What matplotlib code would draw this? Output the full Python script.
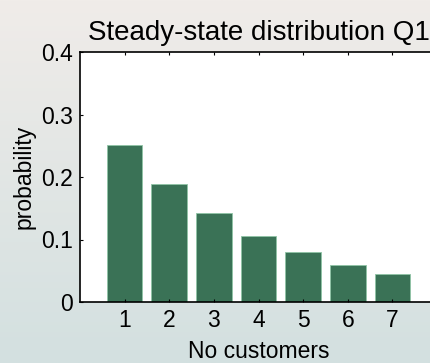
#!/usr/bin/env python3
import numpy as np
import matplotlib
matplotlib.use('Agg')
import matplotlib.pyplot as plt
from matplotlib.colors import LinearSegmentedColormap

# steady-state probabilities for 1..7 customers
customers = [1, 2, 3, 4, 5, 6, 7]
probability = [0.251, 0.189, 0.142, 0.106, 0.080, 0.060, 0.045]
yticks = [0, 0.1, 0.2, 0.3, 0.4]
ytick_labels = ['0', '0.1', '0.2', '0.3', '0.4']

plt.rcParams['font.family'] = ['Liberation Sans', 'DejaVu Sans']

fig = plt.figure(figsize=(4.3, 3.63), dpi=100)

# background gradient (top: warm grey, bottom: pale blue-grey)
bg = fig.add_axes([0, 0, 1, 1], zorder=-1)
cmap = LinearSegmentedColormap.from_list('bg', ['#f0ece9', '#d3e0e0'])
bg.imshow(np.linspace(0, 1, 256).reshape(-1, 1), aspect='auto', cmap=cmap,
          extent=[0, 1, 0, 1])
bg.set_axis_off()

ax = fig.add_axes([80 / 430, 61 / 363, 357 / 430, 250 / 363])
ax.bar(customers, probability, width=0.8, color='#3a7256',
       edgecolor='#8fc4a6', linewidth=0.6)

ax.set_xlim(0, 8)
ax.set_ylim(0, 0.4)
ax.set_xticks(customers)
ax.set_yticks(yticks)
ax.set_yticklabels(ytick_labels)
ax.tick_params(axis='both', direction='in', length=2, width=0.8,
               labelsize=16.5, top=True, right=False)
ax.tick_params(axis='y', pad=5)
ax.tick_params(axis='x', pad=5)
for side in ['top', 'left', 'bottom']:
    ax.spines[side].set_linewidth(1.2)
ax.spines['right'].set_visible(False)

ax.set_title('Steady-state distribution Q1', fontsize=20, pad=9)
ax.set_xlabel('No customers', fontsize=16.5, labelpad=6)
ax.set_ylabel('probability', fontsize=16.5, labelpad=4)

fig.savefig('out.png', dpi=100)
